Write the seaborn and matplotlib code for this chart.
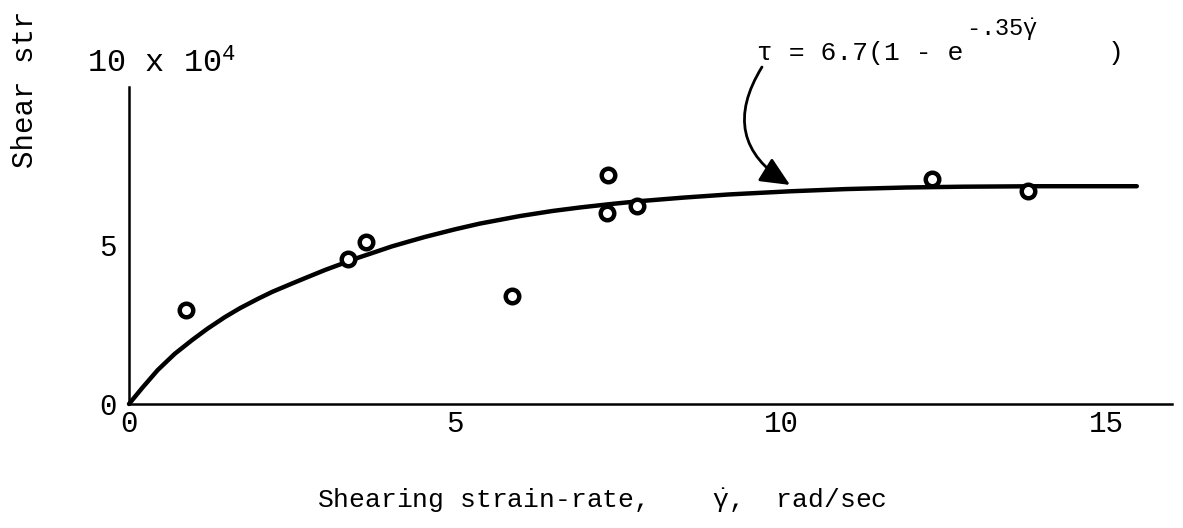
import matplotlib
matplotlib.use("Agg")
import matplotlib.pyplot as plt
import seaborn as sns
import pandas as pd

# Measured data points (strain rate, shear stress x 10^4)
rate_pts = [0.87, 3.36, 3.64, 5.88, 7.35, 7.33, 7.79, 12.32, 13.79]
stress_pts = [2.97, 4.57, 5.11, 3.41, 7.22, 6.03, 6.25, 7.10, 6.72]

# Fitted curve
curve_x = [0, 0.2, 0.44, 0.7, 0.97, 1.2, 1.47, 1.7, 1.98, 2.2, 2.5, 2.7,
           3.01, 3.3, 3.51, 3.8, 4.03, 4.3, 4.54, 5.0, 5.38, 6.0, 6.5,
           6.92, 7.4, 7.84, 8.5, 9.2, 10.14, 11.0, 11.93, 12.8, 13.97, 15.46]
curve_y = [0, 0.50, 1.07, 1.58, 2.02, 2.37, 2.74, 3.02, 3.32, 3.54, 3.80,
           3.97, 4.23, 4.45, 4.61, 4.81, 4.97, 5.13, 5.27, 5.51, 5.69,
           5.93, 6.09, 6.20, 6.31, 6.40, 6.51, 6.61, 6.71, 6.78, 6.83,
           6.855, 6.87, 6.87]

x_ticks = [0, 5, 10, 15, 16]
x_ticklabels = ["0", "5", "10", "15", ""]
y_ticks = [0, 5, 10]
y_ticklabels = ["0", "5", ""]

sns.set_theme(style="white")
plt.rcParams["font.family"] = ["Liberation Mono", "DejaVu Sans"]
plt.rcParams["mathtext.fontset"] = "custom"
plt.rcParams["mathtext.rm"] = "Liberation Mono"
plt.rcParams["mathtext.it"] = "Liberation Mono"
plt.rcParams["mathtext.bf"] = "Liberation Mono:bold"

W, H = 1183, 528
fig = plt.figure(figsize=(W / 100, H / 100), dpi=100)
ax = fig.add_axes([129 / W, 124 / H, (1172 - 129) / W, (404 - 87) / H])

pts = pd.DataFrame({"rate": rate_pts, "stress": stress_pts})
crv = pd.DataFrame({"rate": curve_x, "stress": curve_y})

sns.lineplot(data=crv, x="rate", y="stress", ax=ax, color="black",
             linewidth=3.2, sort=False, clip_on=False, zorder=3,
             solid_joinstyle="round", solid_capstyle="round")
sns.scatterplot(data=pts, x="rate", y="stress", ax=ax, marker="o", s=95,
                facecolor="white", edgecolor="black", linewidth=3.2,
                zorder=4, clip_on=False)

ax.set_xlim(0, 16)
ax.set_ylim(0, 10)
ax.set_xticks(x_ticks)
ax.set_xticklabels(x_ticklabels)
ax.set_yticks(y_ticks)
ax.set_yticklabels(y_ticklabels)
ax.set_xlabel("")
ax.set_ylabel("")

for side in ["top", "right"]:
    ax.spines[side].set_visible(False)
for side in ["left", "bottom"]:
    ax.spines[side].set_color("black")
    ax.spines[side].set_linewidth(1.8)

ax.tick_params(axis="both", direction="in", length=14, width=1.8,
               color="black", labelcolor="black", labelsize=21)
ax.tick_params(axis="x", pad=4)
ax.tick_params(axis="y", pad=9)
ax.grid(False)

# Top y-axis label
fig.text(87 / W, 1 - 73 / H, r"10 x 10$^{4}$", fontsize=23,
         ha="left", va="baseline", color="black")

# Axis labels
fig.text(317 / W, 1 - 507 / H,
         r"Shearing strain-rate,    $\dot{\gamma}$,  rad/sec",
         fontsize=19, ha="left", va="baseline", color="black")
fig.text(25 / W, 1 - 168 / H, "Shear str", fontsize=21, rotation=90,
         ha="center", va="bottom", color="black")

# Equation annotation with curved arrow
fig.text(757 / W, 1 - 60 / H, "τ = 6.7(1 - e",
         fontsize=19, ha="left", va="baseline", color="black")
fig.text(966 / W, 1 - 36 / H, r"-.35$\dot{\gamma}$",
         fontsize=17, ha="left", va="baseline", color="black")
fig.text(1108 / W, 1 - 60 / H, ")",
         fontsize=19, ha="left", va="baseline", color="black")
ax.annotate("", xy=(10.14, 6.91), xytext=(9.71, 10.63),
            xycoords="data", textcoords="data", annotation_clip=False,
            arrowprops=dict(arrowstyle="-|>,head_length=1.2,head_width=0.55",
                            mutation_scale=15, color="black", linewidth=2,
                            connectionstyle="arc3,rad=0.5",
                            shrinkA=0, shrinkB=0))

fig.savefig("out.png", dpi=100, facecolor="white")
